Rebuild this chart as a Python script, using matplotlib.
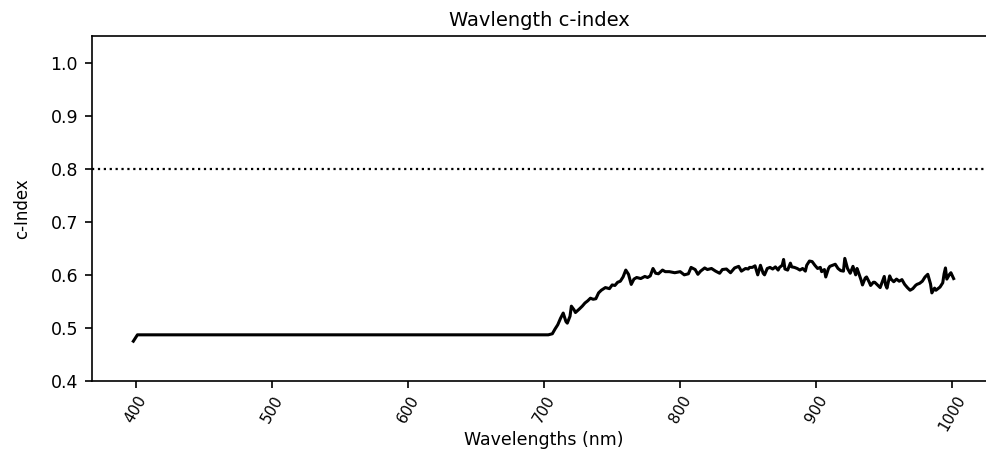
import matplotlib
matplotlib.use("Agg")
import matplotlib.pyplot as plt

# Wavelength (nm) and corresponding c-index
wavelengths = [
    398, 401, 500, 600, 703, 706, 708, 710, 712, 714, 716, 717, 719, 720, 722, 723,
    726, 728, 730, 732, 734, 736, 738, 740, 742, 745, 748, 750, 752, 754, 756, 758,
    760, 762, 764, 766, 768, 771, 774, 776, 778, 780, 782, 784, 787, 789, 792, 796,
    800, 803, 806, 808, 811, 813, 815, 818, 820, 823, 826, 829, 831, 834, 837, 840,
    843, 845, 848, 850, 851, 853, 855, 857, 859, 861, 862, 864, 866, 868, 870, 872,
    873, 875, 876, 877, 879, 881, 882, 884, 886, 888, 890, 892, 893, 895, 897, 899,
    901, 903, 904, 906, 907, 909, 910, 912, 914, 916, 918, 920, 921, 923, 925, 927,
    929, 930, 931, 933, 934, 936, 937, 939, 940, 942, 943, 945, 947, 948, 950, 951,
    952, 954, 955, 957, 959, 961, 963, 965, 967, 969, 971, 973, 974, 976, 978, 980,
    982, 984, 985, 987, 988, 990, 991, 993, 994, 995, 996, 998, 999, 1001,
]
c_index = [
    0.475, 0.487, 0.487, 0.487, 0.487, 0.489, 0.498, 0.506, 0.518, 0.528, 0.512, 0.509, 0.522, 0.541, 0.534, 0.529,
    0.536, 0.541, 0.547, 0.551, 0.556, 0.554, 0.555, 0.566, 0.571, 0.576, 0.574, 0.581, 0.580, 0.586, 0.588, 0.596,
    0.609, 0.601, 0.582, 0.592, 0.595, 0.593, 0.597, 0.595, 0.598, 0.612, 0.603, 0.602, 0.609, 0.606, 0.606, 0.604,
    0.606, 0.600, 0.602, 0.614, 0.610, 0.601, 0.607, 0.613, 0.610, 0.612, 0.607, 0.603, 0.610, 0.611, 0.604, 0.613,
    0.616, 0.607, 0.612, 0.611, 0.614, 0.614, 0.617, 0.600, 0.618, 0.603, 0.600, 0.612, 0.614, 0.611, 0.615, 0.609,
    0.614, 0.618, 0.629, 0.611, 0.609, 0.622, 0.615, 0.614, 0.612, 0.609, 0.612, 0.607, 0.618, 0.626, 0.625, 0.618,
    0.612, 0.614, 0.606, 0.610, 0.596, 0.612, 0.616, 0.618, 0.620, 0.612, 0.608, 0.607, 0.631, 0.612, 0.603, 0.616,
    0.600, 0.612, 0.605, 0.590, 0.581, 0.594, 0.596, 0.586, 0.580, 0.586, 0.586, 0.581, 0.576, 0.583, 0.597, 0.581,
    0.575, 0.598, 0.592, 0.587, 0.592, 0.588, 0.591, 0.582, 0.576, 0.571, 0.574, 0.580, 0.582, 0.584, 0.588, 0.596,
    0.601, 0.583, 0.566, 0.575, 0.571, 0.575, 0.577, 0.585, 0.602, 0.613, 0.592, 0.601, 0.604, 0.593,
]

threshold = 0.8
x_ticks = [400, 500, 600, 700, 800, 900, 1000]
y_ticks = [0.4, 0.5, 0.6, 0.7, 0.8, 0.9, 1.0]

plt.rcParams["font.family"] = ["DejaVu Sans"]

fig = plt.figure(figsize=(9.86, 4.51), dpi=100)
ax = fig.add_axes([0.0933, 0.1552, 0.9067, 0.7650])

ax.plot(wavelengths, c_index, color="black", linewidth=2.2)
ax.axhline(threshold, color="black", linestyle=":", linewidth=1.6)

ax.set_xlim(367.6, 1024.8)
ax.set_ylim(0.4, 1.05)
ax.set_xticks(x_ticks)
ax.set_xticklabels([str(t) for t in x_ticks], rotation=60, fontsize=11)
ax.set_yticks(y_ticks)
ax.set_yticklabels([f"{t:.1f}" for t in y_ticks], fontsize=12.5)
ax.tick_params(axis="both", length=5, width=1.2)
ax.tick_params(axis="y", pad=5)

ax.spines["right"].set_visible(False)
for side in ("left", "bottom", "top"):
    ax.spines[side].set_linewidth(1.2)

ax.set_title("Wavlength c-index", fontsize=14, pad=7)
ax.set_xlabel("Wavelengths (nm)", fontsize=12.5)
ax.xaxis.set_label_coords(0.505, -0.145)
ax.set_ylabel("c-Index", fontsize=12, labelpad=14)

fig.savefig("out.png", dpi=100)
